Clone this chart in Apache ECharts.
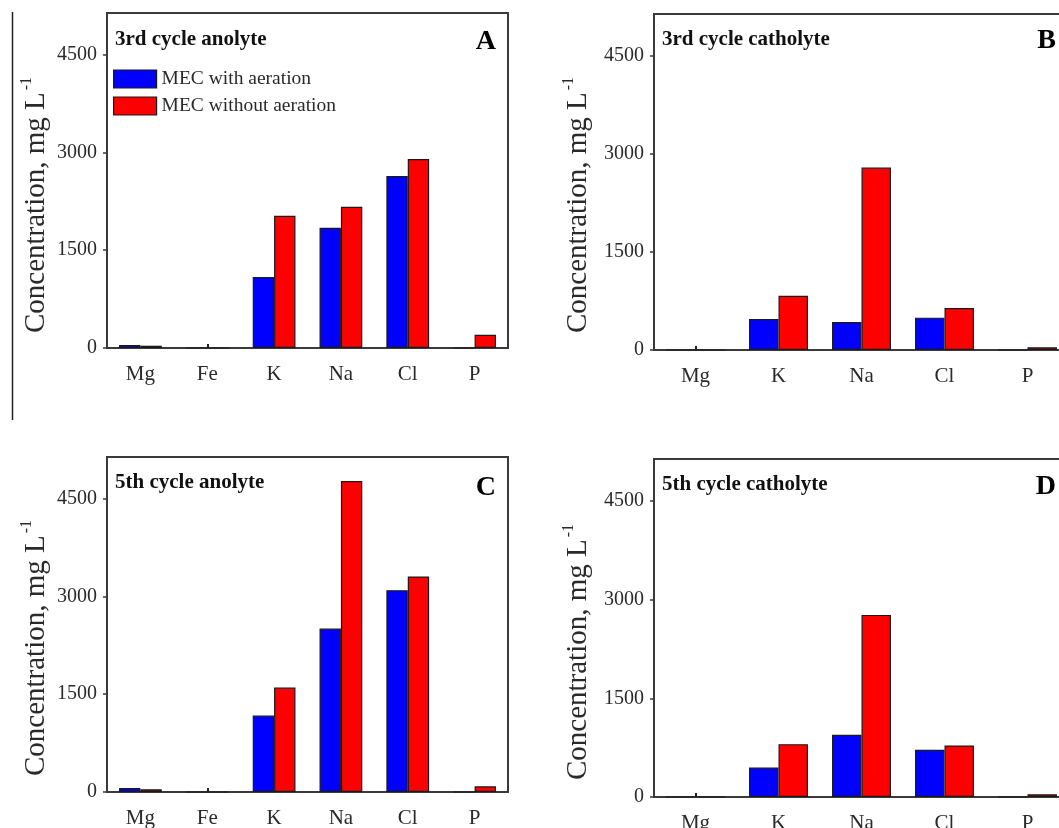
<!DOCTYPE html>
<html>
<head>
<meta charset="utf-8">
<script src="https://cdn.jsdelivr.net/npm/echarts@6/dist/echarts.min.js"></script>
<style>
html,body{margin:0;padding:0;background:#fff;}
#chart{width:1059px;height:828px;}
</style>
</head>
<body>
<div id="chart"></div>
<script>
// ---- data ----
const catsAnolyte = ['Mg', 'Fe', 'K', 'Na', 'Cl', 'P'];
const catsCatholyte = ['Mg', 'K', 'Na', 'Cl', 'P'];
const seriesNames = ['MEC with aeration', 'MEC without aeration'];
const yTicks = [0, 1500, 3000, 4500];

const a3With    = [45, 0, 1088, 1846, 2639, 0];
const a3Without = [35, 0, 2029, 2166, 2898, 203];
const c3With    = [0, 474, 428, 495, 0];
const c3Without = [0, 831, 2790, 643, 41];
const a5With    = [61, 0, 1172, 2508, 3097, 0];
const a5Without = [41, 0, 1602, 4771, 3307, 87];
const c5With    = [0, 448, 947, 718, 0];
const c5Without = [0, 804, 2769, 784, 41];

const panelTitles = ['3rd cycle anolyte', '3rd cycle catholyte', '5th cycle anolyte', '5th cycle catholyte'];
const panelLetters = ['A', 'B', 'C', 'D'];
const yTitle = 'Concentration, mg L';
const yTitleSup = '-1';

// ---- styling / layout ----
const SERIF = '"Liberation Serif", "DejaVu Serif", serif';
const BLUE = '#0000ff', RED = '#ff0000', EDGE = '#1a1a1a', FRAME = '#3a3a3a', TXT = '#2a2a2a';
const grids = [
  {left: 107, top: 13, width: 401, height: 335},
  {left: 654, top: 14, width: 415, height: 336},
  {left: 107, top: 457, width: 401, height: 335},
  {left: 654, top: 459, width: 415, height: 338}
];
const cats = [catsAnolyte, catsCatholyte, catsAnolyte, catsCatholyte];
const tickCat = ['Fe', 'Mg', 'Fe', 'Mg'];
const dataWith = [a3With, c3With, a5With, c5With];
const dataWithout = [a3Without, c3Without, a5Without, c5Without];
const catGap = ['36%', '29%', '36%', '29%'];
const titlePos = [[115, 40], [662, 40], [115, 483], [662, 485]];
const letterPos = [[496, 42], [1056, 41], [496, 488], [1056, 487]];
const yTitlePos = [[35, 205], [577, 205], [35, 648], [577, 652]];

const option = {
  backgroundColor: '#fff',
  animation: false,
  legend: {
    data: seriesNames,
    orient: 'vertical',
    left: 113, top: 69, padding: 0,
    itemWidth: 43, itemHeight: 18, itemGap: 7,
    icon: 'rect',
    itemStyle: {borderColor: EDGE, borderWidth: 1.2},
    textStyle: {fontFamily: SERIF, fontSize: 19.5, color: TXT, padding: [0, 0, 0, 0]}
  },
  grid: grids.map(g => Object.assign({show: true, borderColor: FRAME, borderWidth: 2, containLabel: false, outerBoundsMode: 'none'}, g)),
  xAxis: grids.map((g, i) => ({
    type: 'category', gridIndex: i, data: cats[i],
    axisLine: {show: true, lineStyle: {color: FRAME, width: 2}},
    axisTick: {
      show: true, inside: true, length: 4, alignWithLabel: true,
      interval: (idx, val) => val === tickCat[i],
      lineStyle: {color: '#222', width: 2}
    },
    axisLabel: {fontFamily: SERIF, fontSize: 21, color: TXT, margin: 16, interval: 0}
  })),
  yAxis: grids.map((g, i) => ({
    type: 'value', gridIndex: i, min: 0, max: 5140, interval: 1500,
    splitLine: {show: false},
    axisLine: {show: true, lineStyle: {color: FRAME, width: 2}},
    axisTick: {show: true, length: 4, customValues: yTicks, lineStyle: {color: FRAME, width: 1.5}},
    axisLabel: {
      fontFamily: SERIF, fontSize: 20, color: TXT, margin: 10, customValues: yTicks,
      formatter: v => (yTicks.indexOf(v) >= 0 ? String(v) : '')
    }
  })),
  series: [],
  graphic: []
};

for (let i = 0; i < 4; i++) {
  option.series.push({
    name: seriesNames[0], type: 'bar', xAxisIndex: i, yAxisIndex: i,
    data: dataWith[i], barGap: '0%', barCategoryGap: catGap[i],
    itemStyle: {color: BLUE, borderColor: EDGE, borderWidth: 1.2}
  });
  option.series.push({
    name: seriesNames[1], type: 'bar', xAxisIndex: i, yAxisIndex: i,
    data: dataWithout[i], barGap: '0%', barCategoryGap: catGap[i],
    itemStyle: {color: RED, borderColor: EDGE, borderWidth: 1.2}
  });
  option.graphic.push({
    type: 'text', x: titlePos[i][0], y: titlePos[i][1],
    style: {text: panelTitles[i], font: 'bold 21px ' + SERIF, fill: '#111', verticalAlign: 'middle', align: 'left'}
  });
  option.graphic.push({
    type: 'text', x: letterPos[i][0], y: letterPos[i][1],
    style: {text: panelLetters[i], font: 'bold 28px ' + SERIF, fill: '#000', verticalAlign: 'middle', align: 'right'}
  });
  option.graphic.push({
    type: 'text', x: yTitlePos[i][0], y: yTitlePos[i][1], rotation: Math.PI / 2,
    style: {
      text: '{m|' + yTitle + '}{s|' + yTitleSup + '}',
      align: 'center', verticalAlign: 'middle',
      rich: {
        m: {fontFamily: SERIF, fontSize: 29, fill: TXT, lineHeight: 32, verticalAlign: 'bottom'},
        s: {fontFamily: SERIF, fontSize: 16, fill: TXT, lineHeight: 32, verticalAlign: 'top', padding: [0, 0, 12, 2]}
      }
    }
  });
}
option.graphic.push({
  type: 'line', shape: {x1: 12.5, y1: 12, x2: 12.5, y2: 420},
  style: {stroke: '#222', lineWidth: 1.5}
});

const chart = echarts.init(document.getElementById('chart'), null, {renderer: 'canvas'});
chart.setOption(option);
</script>
</body>
</html>
